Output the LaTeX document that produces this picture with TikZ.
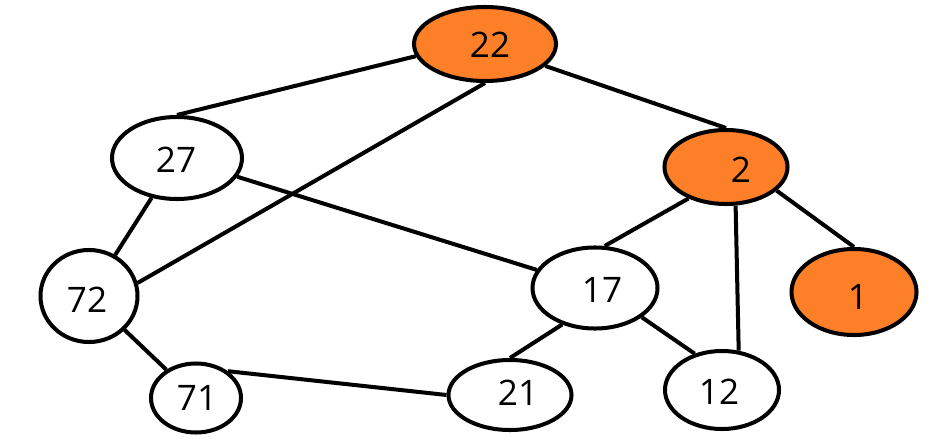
\documentclass[tikz,border=0pt]{standalone}
\usepackage{fontspec}
\setmainfont{Open Sans}
\usetikzlibrary{shapes.geometric}
\definecolor{VisitOrange}{RGB}{253, 128, 40}

\begin{document}
\begin{tikzpicture}[x=0.025cm, y=-0.025cm,
    vertex/.style={ellipse, draw=black, line width=2.85pt, fill=white, inner sep=0pt},
    marked/.style={vertex, fill=VisitOrange},
    num/.style={font=\fontsize{25}{28}\selectfont, inner sep=0pt},
    edge/.style={line width=2.85pt, black}]

    \useasboundingbox (0,0) rectangle (940,440);

    % --- Vertices ---
    \node[marked, minimum width=3.55cm, minimum height=1.85cm] (n22) at (485,44) {};
    \node[vertex, minimum width=3.25cm, minimum height=2.05cm] (n27) at (177,158) {};
    \node[marked, minimum width=3.075cm, minimum height=1.85cm] (n2) at (726,167) {};
    \node[vertex, minimum width=2.425cm, minimum height=2.3cm] (n72) at (89,296) {};
    \node[vertex, minimum width=3.125cm, minimum height=2.025cm] (n17) at (595,288) {};
    \node[marked, minimum width=3.125cm, minimum height=2.15cm] (n1) at (854,292) {};
    \node[vertex, minimum width=2.25cm, minimum height=1.725cm] (n71) at (196,398) {};
    \node[vertex, minimum width=3.075cm, minimum height=1.75cm] (n21) at (510,395) {};
    \node[vertex, minimum width=2.85cm, minimum height=1.95cm] (n12) at (722,390) {};

    % --- Numbers (not quite centred, as drawn by hand) ---
    \node[num] (t22) at (490,45) {22};
    \node[num] (t27) at (176,160) {27};
    \node[num] (t2) at (741,170) {2};
    \node[num] (t72) at (87,300) {72};
    \node[num] (t17) at (602,290) {17};
    \node[num] (t1) at (858,297) {1};
    \node[num] (t71) at (197,398) {71};
    \node[num] (t21) at (518,393) {21};
    \node[num] (t12) at (719,392) {12};

    % --- Edges ---
    \draw[edge] (n22.190) -- (n27.north);
    \draw[edge] (n22.south) -- (n72.15);
    \draw[edge] (n22.-20) -- (n2.north);
    \draw[edge] (n27) -- (n72);
    \draw[edge] (n27) -- (n17);
    \draw[edge] (n2.-140) -- (n17.77);
    \draw[edge] (n2.-76) -- (n12.67);
    \draw[edge] (n2.-25) -- (n1.north);
    \draw[edge] (n72) -- (n71);
    \draw[edge] (n71.40) -- (n21.west);
    \draw[edge] (n17.-132) -- (n21.north);
    \draw[edge] (n17.-32) -- (n12.127);

\end{tikzpicture}
\end{document}
